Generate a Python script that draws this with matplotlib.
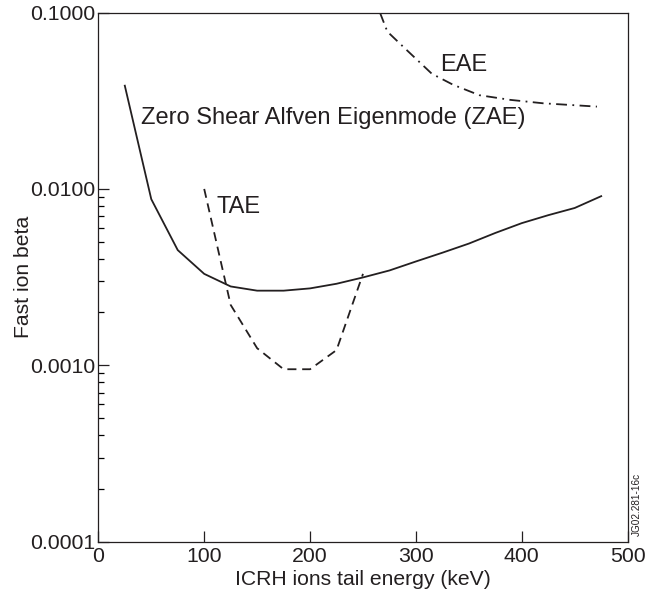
import numpy as np
import matplotlib
matplotlib.use('Agg')
import matplotlib.pyplot as plt
from matplotlib.ticker import FixedLocator, FixedFormatter

plt.rcParams['font.family'] = ['Liberation Sans', 'DejaVu Sans']

# ZAE (solid)
zae_E = [25, 50, 75, 100, 125, 150, 175, 200, 225, 250, 275, 300, 325, 350, 375, 400, 425, 450, 475]
zae_beta = [0.0385, 0.00875, 0.0045, 0.0033, 0.0028, 0.00265, 0.00265, 0.00273, 0.0029, 0.00315,
            0.00345, 0.00388, 0.00435, 0.0049, 0.00563, 0.0064, 0.0071, 0.0078, 0.0091]

# TAE (dashed)
tae_E = [100, 125, 150, 175, 200, 225, 250]
tae_beta = [0.0100, 0.0022, 0.00125, 0.00095, 0.00095, 0.00122, 0.0033]

# EAE (dash-dot)
eae_E = [266, 273, 288, 315, 335, 360, 389, 420, 471]
eae_beta = [0.100, 0.078, 0.064, 0.045, 0.039, 0.034, 0.032, 0.0306, 0.0293]

y_ticks = [0.0001, 0.001, 0.01, 0.1]
y_ticklabels = ['0.0001', '0.0010', '0.0100', '0.1000']
x_ticks = [0, 100, 200, 300, 400, 500]

col = '#231f20'
fs = 15.3
fs_lab = 15.2
fs_txt = 17
lw = 1.3

fig = plt.figure(figsize=(6.6, 5.99), dpi=100)
ax = fig.add_axes([0.149, 0.0957, 0.802, 0.8833])

ax.plot(zae_E, zae_beta, '-', c=col, linewidth=lw)
ax.plot(tae_E, tae_beta, c=col, linewidth=lw, dashes=(5, 3.2))
ax.plot(eae_E, eae_beta, c=col, linewidth=lw, dashes=(6, 3, 1, 3))

ax.set_yscale('log')
ax.set_xlim(0, 500)
ax.set_ylim(0.0001, 0.1)

ax.yaxis.set_major_locator(FixedLocator(y_ticks))
ax.yaxis.set_major_formatter(FixedFormatter(y_ticklabels))
minor = [m * d for d in [0.0001, 0.001] for m in range(2, 10)]
ax.yaxis.set_minor_locator(FixedLocator(minor))
ax.yaxis.set_minor_formatter(FixedFormatter([''] * len(minor)))
ax.set_xticks(x_ticks)

ax.tick_params(axis='both', which='major', direction='in', length=8, width=0.9,
               labelsize=fs, colors=col, pad=2)
ax.tick_params(axis='x', which='major', pad=4)
ax.tick_params(axis='y', which='minor', direction='in', length=4.3, width=0.9)
for s in ax.spines.values():
    s.set_linewidth(0.9)
    s.set_color(col)

ax.set_xlabel('ICRH ions tail energy (keV)', fontsize=fs_lab, color=col, labelpad=3)
ax.set_ylabel('Fast ion beta', fontsize=fs_lab, color=col, va='center')
ax.yaxis.set_label_coords(-0.141, 0.5)

ax.text(40.3, 0.0253, 'Zero Shear Alfven Eigenmode (ZAE)', fontsize=fs_txt, color=col, va='center', ha='left')
ax.text(112, 0.0079, 'TAE', fontsize=fs_txt, color=col, va='center', ha='left')
ax.text(323, 0.0505, 'EAE', fontsize=fs_txt, color=col, va='center', ha='left')

fig.text(0.965, 0.105, 'JG02.281-16c', fontsize=7.2, color=col, rotation=90,
         ha='center', va='bottom')

fig.savefig('out.png', dpi=100)
